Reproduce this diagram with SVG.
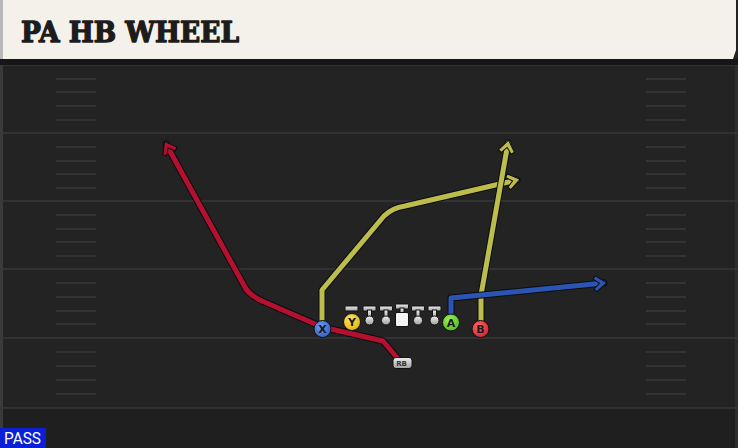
<svg xmlns="http://www.w3.org/2000/svg" width="738" height="448" viewBox="0 0 738 448">
<defs>
<style>
.yl{stroke:#383838;stroke-width:1.5}
.hash{stroke:#3a3a3a;stroke-width:1.5}
.rt{fill:none;stroke-linecap:round;stroke-linejoin:round}
.out{stroke:#0c0c10;stroke-width:7}
.red{stroke:#b3112f;stroke-width:5}
.yel{stroke:#bcbd4c;stroke-width:5}
.blu{stroke:#2a55b3;stroke-width:5}
.ltr{font-family:"DejaVu Sans","Liberation Sans",sans-serif;font-weight:bold;font-size:11px;text-anchor:middle;fill:#1a1a1a}
.ol{fill:url(#lg);stroke:#111;stroke-width:1}
</style>
<radialGradient id="gX" cx="0.4" cy="0.35" r="0.7"><stop offset="0" stop-color="#6d9cf0"/><stop offset="1" stop-color="#2d5dc4"/></radialGradient>
<radialGradient id="gY" cx="0.4" cy="0.35" r="0.7"><stop offset="0" stop-color="#ffe466"/><stop offset="1" stop-color="#e0b410"/></radialGradient>
<radialGradient id="gA" cx="0.4" cy="0.35" r="0.7"><stop offset="0" stop-color="#9ef060"/><stop offset="1" stop-color="#4fb81c"/></radialGradient>
<radialGradient id="gB" cx="0.4" cy="0.35" r="0.7"><stop offset="0" stop-color="#ff6a6a"/><stop offset="1" stop-color="#d0202c"/></radialGradient>
<linearGradient id="lg" x1="0" y1="0" x2="0" y2="1"><stop offset="0" stop-color="#eeeeee"/><stop offset="1" stop-color="#a0a0a0"/></linearGradient>
<marker id="mR" markerUnits="userSpaceOnUse" markerWidth="26" markerHeight="26" refX="0" refY="0" viewBox="-14 -13 26 26" orient="auto"><path d="M3,0 L-8,-8 L-10.5,-5 L-4.5,0 L-10.5,5 L-8,8 Z" fill="#b3112f" stroke="#0c0c10" stroke-width="1"/></marker>
<marker id="mY" markerUnits="userSpaceOnUse" markerWidth="26" markerHeight="26" refX="0" refY="0" viewBox="-14 -13 26 26" orient="auto"><path d="M3,0 L-8,-8 L-10.5,-5 L-4.5,0 L-10.5,5 L-8,8 Z" fill="#bcbd4c" stroke="#0c0c10" stroke-width="1"/></marker>
<marker id="mB" markerUnits="userSpaceOnUse" markerWidth="26" markerHeight="26" refX="0" refY="0" viewBox="-14 -13 26 26" orient="auto"><path d="M3,0 L-8,-8 L-10.5,-5 L-4.5,0 L-10.5,5 L-8,8 Z" fill="#2a55b3" stroke="#0c0c10" stroke-width="1"/></marker>
</defs>
<rect x="0" y="0" width="738" height="448" fill="#232323"/>
<rect x="0" y="408" width="738" height="40" fill="#1f1f1f"/>
<rect x="0" y="60" width="3" height="388" fill="#3a3a3a"/>
<rect x="735" y="60" width="3" height="388" fill="#2e2e2e"/>
<g id="field">
<line class="yl" x1="0" y1="65" x2="738" y2="65"/>
<line class="yl" x1="0" y1="133" x2="738" y2="133"/>
<line class="yl" x1="0" y1="201" x2="738" y2="201"/>
<line class="yl" x1="0" y1="269" x2="738" y2="269"/>
<line class="yl" x1="0" y1="338" x2="738" y2="338"/>
<line class="yl" x1="0" y1="408" x2="738" y2="408"/>
<path class="hash" d="M56,79H96M56,92H96M56,106H96M56,120H96M56,147H96M56,161H96M56,174H96M56,188H96M56,215H96M56,229H96M56,242H96M56,256H96M56,283H96M56,297H96M56,311H96M56,324H96M56,352H96M56,366H96M56,380H96M56,394H96"/>
<path class="hash" d="M646,79H686M646,92H686M646,106H686M646,120H686M646,147H686M646,161H686M646,174H686M646,188H686M646,215H686M646,229H686M646,242H686M646,256H686M646,283H686M646,297H686M646,311H686M646,324H686M646,352H686M646,366H686M646,380H686M646,394H686"/>
</g>
<g id="header">
<rect x="0" y="59" width="738" height="6" fill="#161616"/>
<path d="M0,0 H736 V50 L733,59 H0 Z" fill="#f4f1ea"/>
<rect x="0" y="0" width="3" height="59" fill="#b8b8b8"/>
<text x="21" y="42" font-family="'DejaVu Serif','Liberation Serif',serif" font-weight="bold" font-size="27" fill="#1c1c1c" stroke="#1c1c1c" stroke-width="1.3" stroke-linejoin="round" textLength="218" lengthAdjust="spacingAndGlyphs">PA HB WHEEL</text>
</g>
<g id="connectors">
<path class="rt out" d="M399,360 L383,341 L322,327 L262,301 Q250,295 246,289 L166,144"/>
<path class="rt red" d="M399,360 L383,341 L322,327 L262,301 Q250,295 246,289 L166,144" marker-end="url(#mR)"/>
<path class="rt out" d="M322,328 L322,290 L384,216 Q392,208 405,206 L517,180"/>
<path class="rt yel" d="M322,328 L322,290 L384,216 Q392,208 405,206 L517,180" marker-end="url(#mY)"/>
<path class="rt out" d="M481,328 L481,295 L508,143"/>
<path class="rt yel" d="M481,328 L481,295 L508,143" marker-end="url(#mY)"/>
<path class="rt out" d="M451,322 L451,298 L604,283"/>
<path class="rt blu" d="M451,322 L451,298 L604,283" marker-end="url(#mB)"/>
</g>
<g id="line">
<g id="Y-block"><rect class="ol" x="345" y="306" width="13" height="5" rx="1"/></g>
<g id="LT"><rect class="ol" x="363" y="306" width="13" height="5" rx="1"/><rect class="ol" x="367.5" y="310" width="4" height="8"/><circle class="ol" cx="369.5" cy="320.5" r="4.5"/></g>
<g id="LG"><rect class="ol" x="379.5" y="306" width="13" height="5" rx="1"/><rect class="ol" x="384" y="310" width="4" height="8"/><circle class="ol" cx="386" cy="320.5" r="4.5"/></g>
<g id="C"><rect class="ol" x="395.5" y="304" width="13" height="5" rx="1"/><rect class="ol" x="400" y="308" width="4" height="5"/><rect x="395.5" y="312.5" width="13" height="14" rx="1.5" fill="#f4f4f4" stroke="#111" stroke-width="1"/></g>
<g id="RG"><rect class="ol" x="411.5" y="306" width="13" height="5" rx="1"/><rect class="ol" x="416" y="310" width="4" height="8"/><circle class="ol" cx="418" cy="320.5" r="4.5"/></g>
<g id="RT"><rect class="ol" x="428" y="306" width="13" height="5" rx="1"/><rect class="ol" x="432.5" y="310" width="4" height="8"/><circle class="ol" cx="434.5" cy="320.5" r="4.5"/></g>
</g>
<g id="X"><circle cx="322.5" cy="329" r="8.5" fill="url(#gX)" stroke="#111" stroke-width="1"/><text class="ltr" x="322.5" y="333">X</text></g>
<g id="Y"><circle cx="352" cy="322" r="8.5" fill="url(#gY)" stroke="#111" stroke-width="1"/><text class="ltr" x="352" y="326">Y</text></g>
<g id="A"><circle cx="451" cy="322.5" r="8.5" fill="url(#gA)" stroke="#111" stroke-width="1"/><text class="ltr" x="451" y="326.5">A</text></g>
<g id="B"><circle cx="480.5" cy="329" r="8.5" fill="url(#gB)" stroke="#111" stroke-width="1"/><text class="ltr" x="480.5" y="333">B</text></g>
<g id="RB"><rect x="393" y="357.5" width="19" height="11" rx="3" fill="url(#lg)" stroke="#111" stroke-width="1"/><text x="401.5" y="366" font-family="'DejaVu Sans','Liberation Sans',sans-serif" font-weight="bold" font-size="7" text-anchor="middle" fill="#333">RB</text></g>
<g id="pass"><rect x="0" y="428" width="46" height="20" fill="#0a1fd6"/><text x="22.5" y="443.5" font-family="Roboto,'Liberation Sans',sans-serif" font-size="16" text-anchor="middle" fill="#ffffff" textLength="37" lengthAdjust="spacingAndGlyphs">PASS</text></g>
</svg>
